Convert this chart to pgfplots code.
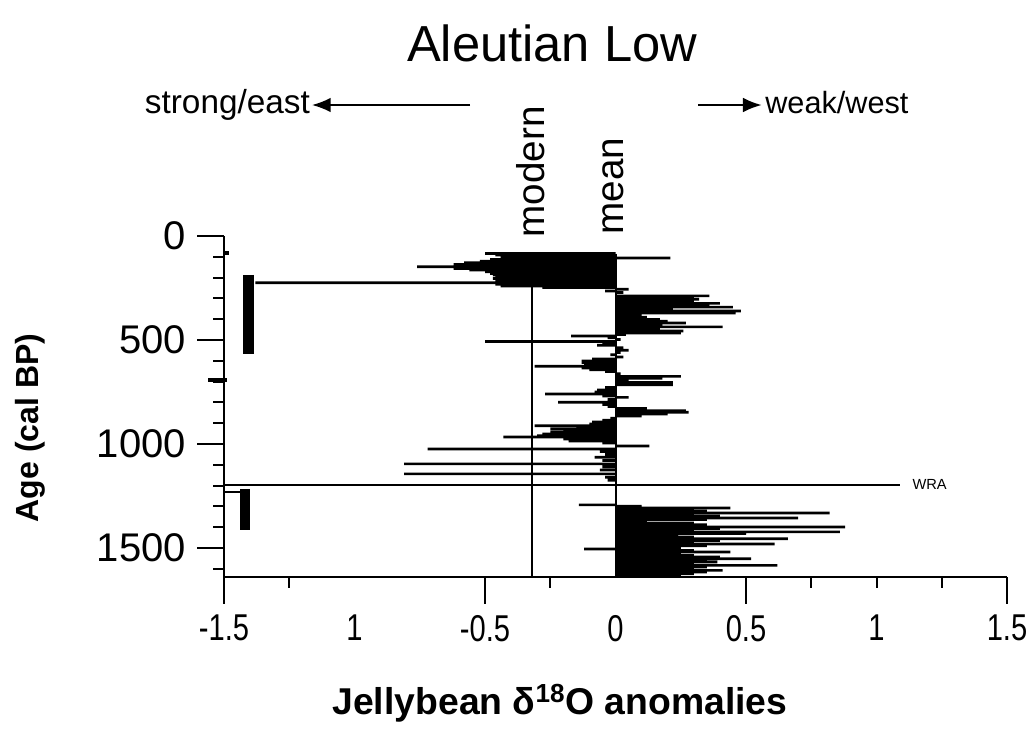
\documentclass[border=0pt]{standalone}
\usepackage{pgfplots}
\pgfplotsset{compat=1.18}
\usepackage{pgfplotstable}
\usepackage{fontspec}
\setmainfont{Liberation Sans}
\newfontfamily\narrowfont[FakeStretch=0.78]{Liberation Sans}
\usetikzlibrary{arrows.meta}

\pgfplotstableread{
a v
84 -0.50
92 -0.46
99 -0.44
106 0.21
113 -0.48
121 -0.52
129 -0.58
137 -0.62
148 -0.76
156 -0.62
164 -0.56
172 -0.50
180 -0.48
188 -0.47
196 -0.46
204 -0.47
212 -0.46
218 -0.45
225 -1.38
232 -0.46
240 -0.44
248 -0.28
256 0.05
264 -0.04
272 0.03
288 0.36
296 0.30
304 0.32
314 0.30
324 0.40
333 0.36
342 0.45
351 0.22
361 0.48
371 0.46
381 0.10
391 0.12
402 0.17
410 0.20
418 0.27
427 0.18
437 0.41
447 0.17
457 0.26
466 0.25
474 0.04
481 -0.17
490 -0.03
498 0.02
507 -0.50
516 -0.05
525 -0.07
537 0.03
549 0.05
560 0.02
571 -0.02
582 0.03
592 -0.09
601 -0.13
609 -0.13
617 -0.12
626 -0.31
635 -0.13
643 -0.10
652 -0.04
662 0.02
675 0.25
684 0.18
694 0.05
704 0.22
716 0.22
728 -0.04
740 -0.07
750 -0.08
760 -0.27
769 -0.05
776 0.05
786 -0.03
800 -0.22
810 -0.05
820 -0.03
830 0.12
840 0.27
848 0.28
856 0.20
866 0.10
876 -0.02
886 -0.05
894 -0.09
904 -0.10
913 -0.31
921 -0.15
928 -0.25
936 -0.20
944 -0.25
952 -0.28
960 -0.30
967 -0.43
976 -0.20
986 -0.18
996 -0.05
1010 0.13
1024 -0.72
1036 -0.06
1050 -0.04
1064 -0.08
1080 -0.05
1096 -0.81
1110 -0.05
1125 -0.06
1144 -0.81
1160 -0.04
1175 -0.03
1293 -0.14
1300 0.10
1308 0.44
1316 0.30
1324 0.35
1332 0.82
1340 0.30
1348 0.40
1356 0.70
1364 0.35
1372 0.12
1380 0.30
1388 0.35
1399 0.88
1407 0.40
1415 0.30
1423 0.86
1431 0.50
1440 0.24
1448 0.30
1456 0.66
1464 0.40
1472 0.30
1481 0.61
1490 0.35
1498 0.25
1505 -0.12
1512 0.30
1520 0.44
1528 0.25
1536 0.30
1544 0.40
1552 0.52
1560 0.35
1568 0.39
1576 0.30
1584 0.62
1592 0.35
1600 0.30
1608 0.41
1616 0.35
1624 0.30
1632 0.25
}\bars

\begin{document}
\begin{tikzpicture}
\useasboundingbox (0,0) rectangle (770.25pt,546.75pt);
\begin{axis}[
  at={(168pt,114pt)}, anchor=south west,
  scale only axis, width=587.25pt, height=255.75pt,
  xmin=-1.5, xmax=1.5, ymin=0, ymax=1640, y dir=reverse,
  axis x line*=bottom, axis y line*=left,
  axis line style={line width=2pt, -},
  clip=false,
  tick align=outside,
  major tick length=20pt, minor tick length=8pt,
  every tick/.style={line width=1.5pt, black},
  xtick={-1.5,-0.5,0.5,1.5}, xticklabels={-1.5,-0.5,0.5,1.5},
  extra x ticks={-1,0,1}, extra x tick labels={1,0,1},
  extra x tick style={major tick length=0pt, xticklabel style={yshift=-20pt}},
  minor xtick={-1.25,-0.25,0.75,1,1.25},
  ytick={0,500,1000,1500}, yticklabels={0,500,1000,1500},
  minor ytick={100,200,300,400,600,700,800,900,1100,1200,1300,1400,1600},
  xticklabel style={font=\narrowfont\fontsize{28}{28}\selectfont, yshift=-5pt},
  yticklabel style={font=\fontsize{30}{30}\selectfont, xshift=-5pt},
]
\addplot[xbar, bar width=13, fill=black, draw=none] table[x=v, y=a] {\bars};
\addplot[line width=1.5pt] coordinates {(-0.32,85) (-0.32,1640)};
\addplot[line width=1.5pt] coordinates {(0,85) (0,1640)};
\addplot[line width=1.6pt] coordinates {(-1.5,1197) (1.09,1197)};
\addplot[line width=8pt] coordinates {(-1.406,187) (-1.406,567)};
\addplot[line width=7.5pt] coordinates {(-1.42,1216) (-1.42,1413)};
\addplot[line width=1.2pt] coordinates {(-1.5,1232) (-1.42,1232)};
\addplot[line width=3pt] coordinates {(-1.5,82) (-1.48,82)};
\addplot[line width=3.5pt] coordinates {(-1.56,692) (-1.49,692)};

\node[anchor=west, font=\fontsize{11}{11}\selectfont] at (axis cs:1.12,1197) {WRA};
\node[anchor=center, inner sep=0pt, font=\fontsize{38}{38}\selectfont] at (axis cs:-0.243,-928) {Aleutian Low};
\node[anchor=east, inner sep=0pt, font=\fontsize{25}{25}\selectfont] at (axis cs:-1.17,-630) {strong/east};
\node[anchor=west, inner sep=0pt, font=\fontsize{23}{23}\selectfont] at (axis cs:0.573,-640) {weak/west};
\draw[line width=1.5pt, -{Latex[length=14pt,width=11pt]}] (axis cs:-0.557,-630) -- (axis cs:-1.163,-630);
\draw[line width=1.5pt, -{Latex[length=14pt,width=11pt]}] (axis cs:0.317,-630) -- (axis cs:0.56,-630);
\node[rotate=90, anchor=west, inner sep=0pt, font=\fontsize{29}{29}\selectfont] at (axis cs:-0.324,8) {modern};
\node[rotate=90, anchor=west, inner sep=0pt, font=\fontsize{29}{29}\selectfont] at (axis cs:-0.01,-5) {mean};
\node[rotate=90, anchor=center, inner sep=0pt, font=\bfseries\fontsize{24}{24}\selectfont] at (axis cs:-2.243,923) {Age (cal BP)};
\node[anchor=center, inner sep=0pt, font=\bfseries\fontsize{28}{28}\selectfont] at (axis cs:-0.213,2246) {Jellybean δ\textsuperscript{18}O anomalies};
\end{axis}
\end{tikzpicture}
\end{document}
